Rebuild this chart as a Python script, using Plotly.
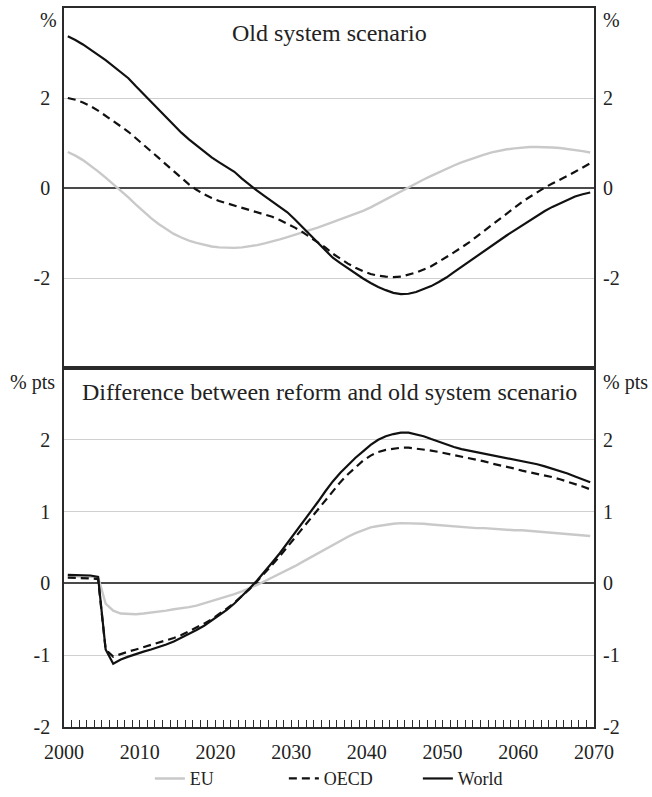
import plotly.graph_objects as go

years = list(range(2000, 2070))

# Old system scenario (%)
eu_old = [0.80, 0.72, 0.62, 0.50, 0.37, 0.23, 0.09, -0.06, -0.21, -0.37,
          -0.53, -0.67, -0.80, -0.92, -1.02, -1.10, -1.17, -1.22, -1.26, -1.30,
          -1.32, -1.33, -1.33, -1.32, -1.30, -1.27, -1.23, -1.19, -1.14, -1.09,
          -1.04, -0.99, -0.93, -0.88, -0.82, -0.76, -0.70, -0.64, -0.58, -0.51,
          -0.43, -0.34, -0.25, -0.16, -0.08, 0.01, 0.10, 0.19, 0.27, 0.35,
          0.43, 0.50, 0.57, 0.63, 0.69, 0.74, 0.79, 0.83, 0.86, 0.88,
          0.90, 0.91, 0.91, 0.91, 0.90, 0.89, 0.87, 0.85, 0.82, 0.79]
oecd_old = [2.00, 1.96, 1.90, 1.82, 1.72, 1.61, 1.49, 1.37, 1.25, 1.11,
            0.97, 0.82, 0.67, 0.52, 0.37, 0.22, 0.08, -0.04, -0.14, -0.22,
            -0.29, -0.34, -0.39, -0.43, -0.48, -0.53, -0.58, -0.64, -0.71, -0.79,
            -0.88, -0.98, -1.09, -1.20, -1.32, -1.46, -1.58, -1.68, -1.77, -1.85,
            -1.91, -1.95, -1.97, -1.98, -1.97, -1.93, -1.88, -1.81, -1.74, -1.64,
            -1.54, -1.43, -1.32, -1.21, -1.08, -0.95, -0.82, -0.69, -0.56, -0.43,
            -0.31, -0.20, -0.09, 0.01, 0.10, 0.18, 0.27, 0.36, 0.45, 0.55]
world_old = [3.37, 3.29, 3.19, 3.08, 2.96, 2.84, 2.71, 2.58, 2.44, 2.26,
             2.09, 1.91, 1.74, 1.56, 1.39, 1.23, 1.08, 0.94, 0.80, 0.68,
             0.57, 0.47, 0.36, 0.21, 0.07, -0.06, -0.18, -0.30, -0.42, -0.54,
             -0.70, -0.87, -1.04, -1.21, -1.38, -1.55, -1.67, -1.79, -1.90, -2.01,
             -2.11, -2.20, -2.27, -2.33, -2.36, -2.35, -2.31, -2.25, -2.18, -2.09,
             -1.99, -1.87, -1.75, -1.63, -1.51, -1.39, -1.27, -1.16, -1.05, -0.94,
             -0.83, -0.72, -0.61, -0.51, -0.42, -0.34, -0.26, -0.19, -0.14, -0.10]

# Difference between reform and old system scenario (% pts)
eu_diff = [0.10, 0.10, 0.10, 0.09, 0.09, -0.28, -0.38, -0.42, -0.43, -0.43,
           -0.42, -0.41, -0.40, -0.38, -0.36, -0.35, -0.33, -0.31, -0.28, -0.25,
           -0.22, -0.19, -0.15, -0.11, -0.07, -0.02, 0.03, 0.08, 0.13, 0.18,
           0.24, 0.30, 0.36, 0.42, 0.48, 0.54, 0.60, 0.65, 0.70, 0.74,
           0.78, 0.80, 0.82, 0.83, 0.84, 0.84, 0.84, 0.83, 0.82, 0.81,
           0.80, 0.79, 0.79, 0.78, 0.77, 0.77, 0.76, 0.76, 0.75, 0.74,
           0.74, 0.73, 0.72, 0.72, 0.71, 0.70, 0.69, 0.68, 0.67, 0.66]
oecd_diff = [0.08, 0.08, 0.07, 0.07, 0.06, -0.92, -1.02, -0.98, -0.95, -0.92,
             -0.89, -0.86, -0.83, -0.80, -0.76, -0.72, -0.67, -0.62, -0.56, -0.50,
             -0.43, -0.35, -0.27, -0.18, -0.08, 0.03, 0.14, 0.26, 0.38, 0.51,
             0.64, 0.77, 0.90, 1.03, 1.16, 1.29, 1.41, 1.52, 1.62, 1.71,
             1.78, 1.83, 1.86, 1.88, 1.89, 1.89, 1.88, 1.87, 1.85, 1.83,
             1.81, 1.79, 1.77, 1.75, 1.72, 1.70, 1.67, 1.65, 1.62, 1.60,
             1.57, 1.55, 1.53, 1.50, 1.48, 1.45, 1.42, 1.39, 1.35, 1.31]
world_diff = [0.12, 0.12, 0.11, 0.11, 0.09, -0.92, -1.12, -1.06, -1.02, -0.98,
              -0.95, -0.92, -0.89, -0.85, -0.81, -0.76, -0.71, -0.65, -0.59, -0.52,
              -0.45, -0.37, -0.28, -0.18, -0.07, 0.04, 0.16, 0.29, 0.42, 0.56,
              0.70, 0.84, 0.98, 1.13, 1.28, 1.42, 1.54, 1.65, 1.75, 1.84,
              1.93, 2.00, 2.05, 2.08, 2.10, 2.10, 2.08, 2.05, 2.01, 1.97,
              1.93, 1.90, 1.87, 1.85, 1.83, 1.81, 1.79, 1.77, 1.75, 1.73,
              1.71, 1.69, 1.66, 1.63, 1.60, 1.57, 1.53, 1.49, 1.45, 1.41]

series_names = ["EU", "OECD", "World"]
top_ticks = [-2, 0, 2]
bottom_ticks = [-2, -1, 0, 1, 2]
x_labels = [2000, 2010, 2020, 2030, 2040, 2050, 2060, 2070]
top_title = "Old system scenario"
bottom_title = "Difference between reform and old system scenario"
top_unit = "%"
bottom_unit = "% pts"
top_unit_at = 3.73      # axis value where the unit label sits
bottom_unit_at = 2.81

FONT = "serif"
TXT = "#222222"
FRAME = "#2a2a2a"

# each year is a band; values sit at band centres
xpos = [y + 0.5 for y in years]

styles = {
    "EU": dict(color="#c9c9c9", width=2.4, dash="solid"),
    "OECD": dict(color="#111111", width=2.2, dash="8px,5px"),
    "World": dict(color="#111111", width=2.2, dash="solid"),
}

fig = go.Figure()
top_data = dict(zip(series_names, [eu_old, oecd_old, world_old]))
bot_data = dict(zip(series_names, [eu_diff, oecd_diff, world_diff]))
for name in series_names:
    fig.add_trace(go.Scatter(x=xpos, y=top_data[name], mode="lines", name=name,
                             line=styles[name], xaxis="x2", yaxis="y3",
                             showlegend=False))
for name in series_names:
    fig.add_trace(go.Scatter(x=xpos, y=bot_data[name], mode="lines", name=name,
                             line=styles[name], xaxis="x", yaxis="y",
                             showlegend=True))

split = 359 / 719
tickfont = dict(family=FONT, size=20, color=TXT)

common_y = dict(showgrid=True, gridcolor="#cfcfcf", gridwidth=1,
                zeroline=True, zerolinecolor="#4a4a4a", zerolinewidth=1.6,
                ticks="", tickfont=tickfont, ticklabelstandoff=8, automargin=False,
                showline=True, linecolor=FRAME, linewidth=1.6, mirror=True)
label_y = dict(showgrid=False, zeroline=False, showline=False, ticks="",
               tickfont=tickfont, ticklabelstandoff=8, automargin=False)

fig.update_layout(
    template="none",
    width=652, height=797,
    margin=dict(l=64, r=58, t=8, b=70, autoexpand=False),
    paper_bgcolor="white", plot_bgcolor="white",
    font=dict(family=FONT, color=TXT),
    xaxis=dict(domain=[0, 1], anchor="y", range=[2000, 2070],
               tickvals=x_labels, ticktext=[str(v) for v in x_labels],
               ticks="inside", ticklen=7, tickcolor=FRAME, tickwidth=1,
               minor=dict(dtick=1, ticks="inside", ticklen=7, tickcolor=FRAME, tickwidth=1,
                          showgrid=False),
               tickfont=tickfont, ticklabelstandoff=6, automargin=False,
               showgrid=False, zeroline=False,
               showline=True, linecolor=FRAME, linewidth=1.6, mirror=True),
    xaxis2=dict(domain=[0, 1], anchor="y3", range=[2000, 2070], matches="x",
                showticklabels=False, ticks="", showgrid=False, zeroline=False,
                automargin=False,
                showline=True, linecolor=FRAME, linewidth=1.6, mirror=True),
    # bottom panel: main left axis, right labels, left unit label
    yaxis=dict(domain=[0, split], anchor="x", range=[-2, 3],
               tickvals=bottom_ticks, ticktext=[str(v) for v in bottom_ticks],
               **common_y),
    yaxis2=dict(domain=[0, split], anchor="x", overlaying="y", side="right",
                range=[-2, 3], tickvals=bottom_ticks + [bottom_unit_at],
                ticktext=[str(v) for v in bottom_ticks] + [bottom_unit], **label_y),
    yaxis5=dict(domain=[0, split], anchor="x", overlaying="y", side="left",
                range=[-2, 3], tickvals=[bottom_unit_at], ticktext=[bottom_unit],
                **label_y),
    # top panel
    yaxis3=dict(domain=[split, 1], anchor="x2", range=[-4, 4],
                tickvals=top_ticks, ticktext=[str(v) for v in top_ticks],
                **common_y),
    yaxis4=dict(domain=[split, 1], anchor="x2", overlaying="y3", side="right",
                range=[-4, 4], tickvals=top_ticks + [top_unit_at],
                ticktext=[str(v) for v in top_ticks] + [top_unit], **label_y),
    legend=dict(orientation="h", x=0.162, xanchor="left", y=-0.072, yanchor="middle",
                font=dict(family=FONT, size=18, color=TXT), entrywidth=89,
                bgcolor="rgba(0,0,0,0)"),
    showlegend=True,
)

# invisible traces to activate the label-only axes
for xa, ya in [("x", "y2"), ("x", "y5"), ("x2", "y4")]:
    fig.add_trace(go.Scatter(x=[None], y=[None], xaxis=xa, yaxis=ya,
                             showlegend=False, hoverinfo="skip"))

ann_font = dict(family=FONT, size=24, color=TXT)
fig.add_annotation(text=top_title, xref="paper", x=0.5, yref="y3", y=3.45,
                   showarrow=False, font=ann_font, xanchor="center", yanchor="middle")
fig.add_annotation(text=bottom_title, xref="paper", x=0.5, yref="y", y=2.67,
                   showarrow=False, font=ann_font, xanchor="center", yanchor="middle")
# left-hand unit of the upper panel, anchored by its left edge
fig.add_annotation(text=top_unit, xref="paper", x=0, xshift=-26, yref="y3", y=top_unit_at,
                   showarrow=False, font=tickfont, xanchor="left", yanchor="middle")

fig.write_html("out.html", config={"displayModeBar": False},
               post_script="document.body.style.margin='0px';")
